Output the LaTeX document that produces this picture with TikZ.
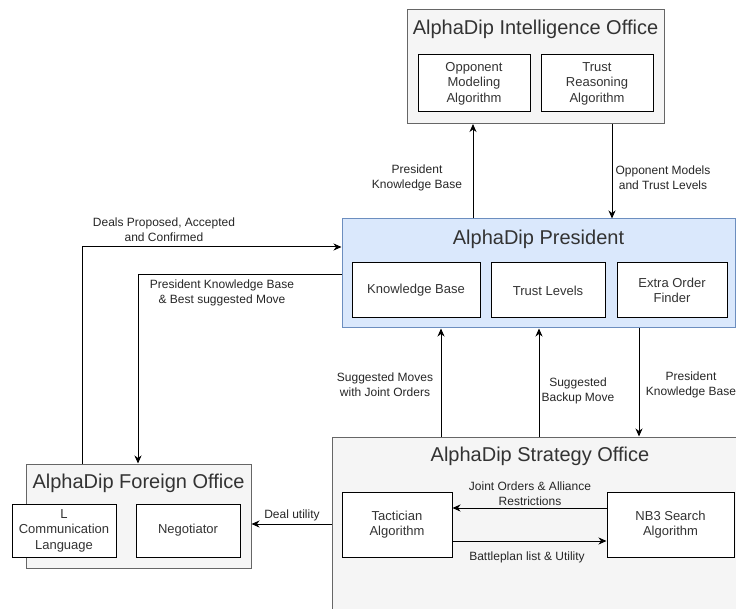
\documentclass[tikz,border=0pt]{standalone}
\usepackage{fontspec}
\setmainfont{Liberation Sans}
\usetikzlibrary{arrows.meta}
\definecolor{officefill}{HTML}{F5F5F5}
\definecolor{officeline}{HTML}{666666}
\definecolor{presfill}{HTML}{DAE8FC}
\definecolor{presline}{HTML}{6C8EBF}
\definecolor{txt}{HTML}{333333}
\definecolor{tagtxt}{HTML}{262626}

\begin{document}
\begin{tikzpicture}[x=1pt,y=-1pt,
  office/.style={draw=officeline, fill=officefill, line width=1pt, inner sep=0pt},
  presbox/.style={draw=presline, fill=presfill, line width=1pt, inner sep=0pt},
  part/.style={draw=black, fill=white, line width=1pt, inner sep=0pt, align=center,
    text=txt, font=\fontsize{13}{15.5}\selectfont},
  heading/.style={text=txt, font=\fontsize{20}{24}\selectfont, inner sep=0pt},
  flow/.style={line width=1pt, -{Stealth[length=8pt,width=7pt,inset=2.5pt]}},
  tag/.style={align=center, text=tagtxt, font=\fontsize{12}{15}\selectfont, inner sep=0pt}
]
\useasboundingbox (0,0) rectangle (736,609);
\clip (0,0) rectangle (736,609);

% Intelligence office
\node[office, minimum width=257pt, minimum height=114pt] (intel) at (535.5,66.5) {};
\node[heading] (intelT) at (535.5,29) {AlphaDip Intelligence Office};
\node[part, minimum width=112pt, minimum height=57pt] (opp) at (474,83.5) {Opponent\\Modeling\\Algorithm};
\node[part, minimum width=112pt, minimum height=57pt] (trust) at (597,83.5) {Trust\\Reasoning\\Algorithm};

% President
\node[presbox, minimum width=393pt, minimum height=109pt] (pres) at (538.5,273.5) {};
\node[heading] (presT) at (538.5,239) {AlphaDip President};
\node[part, minimum width=128pt, minimum height=55pt] (kb) at (416,290.5) {Knowledge Base};
\node[part, minimum width=114pt, minimum height=55pt] (tl) at (548,290.5) {Trust Levels};
\node[part, minimum width=110pt, minimum height=55pt] (eof) at (672,290.5) {Extra Order\\Finder};

% Foreign office
\node[office, minimum width=225pt, minimum height=104pt] (fo) at (138.5,516) {};
\node[heading] (foT) at (138.5,483) {AlphaDip Foreign Office};
\node[part, minimum width=104pt, minimum height=53pt] (lang) at (64,530.5) {L\\Communication\\Language};
\node[part, minimum width=104pt, minimum height=53pt] (neg) at (188,530.5) {Negotiator};

% Strategy office
\node[office, minimum width=416pt, minimum height=213pt] (so) at (540,543.5) {};
\node[heading] (soT) at (540,456) {AlphaDip Strategy Office};
\node[part, minimum width=110pt, minimum height=65pt] (tac) at (397,524.5) {Tactician\\Algorithm};
\node[part, minimum width=127pt, minimum height=65pt] (nb3) at (670.5,524.5) {NB3 Search\\Algorithm};

% connector columns and rows
\coordinate (cUp) at (473,0);
\coordinate (cDown) at (612,0);
\coordinate (cDeals) at (82,0);
\coordinate (cBest) at (138,0);
\coordinate (cMoves) at (441,0);
\coordinate (cBackup) at (539,0);
\coordinate (cPkb) at (639,0);
\coordinate (rDeals) at (0,247);
\coordinate (rBest) at (0,275);
\coordinate (rUtil) at (0,524);
\coordinate (rJoint) at (0,508);
\coordinate (rBattle) at (0,541);

% President <-> Intelligence
\draw[flow] (cUp |- pres.north) -- (cUp |- intel.south);
\draw[flow] (cDown |- intel.south) -- (cDown |- pres.north);
\node[tag] (lPkbTop) at (417,177.5) {President\\Knowledge Base};
\node[tag] (lModels) at (663,177.5) {Opponent Models\\and Trust Levels};

% Foreign office <-> President
\draw[flow] (cDeals |- fo.north) |- (pres.west |- rDeals);
\draw[flow] (pres.west |- rBest) -| (cBest |- fo.north);
\node[tag] (lDeals) at (164,229.5) {Deals Proposed, Accepted\\and Confirmed};
\node[tag] (lBest) at (222,292.5) {President Knowledge Base\\\& Best suggested Move};

% Strategy <-> President
\draw[flow] (cMoves |- so.north) -- (cMoves |- pres.south);
\draw[flow] (cBackup |- so.north) -- (cBackup |- pres.south);
\draw[flow] (cPkb |- pres.south) -- (cPkb |- so.north);
\node[tag] (lMoves) at (385,385) {Suggested Moves\\with Joint Orders};
\node[tag] (lBackup) at (578,390.5) {Suggested\\Backup Move};
\node[tag] (lPkbLow) at (691,385) {President\\Knowledge Base};

% Strategy -> Foreign office
\draw[flow] (so.west |- rUtil) -- (fo.east |- rUtil);
\node[tag] (lUtil) at (292,515) {Deal utility};

% Inside the strategy office
\draw[flow] (nb3.west |- rJoint) -- (tac.east |- rJoint);
\draw[flow] (tac.east |- rBattle) -- (nb3.west |- rBattle);
\node[tag] (lJoint) at (530,493.5) {Joint Orders \& Alliance\\Restrictions};
\node[tag] (lBattle) at (527,557) {Battleplan list \& Utility};
\end{tikzpicture}
\end{document}
